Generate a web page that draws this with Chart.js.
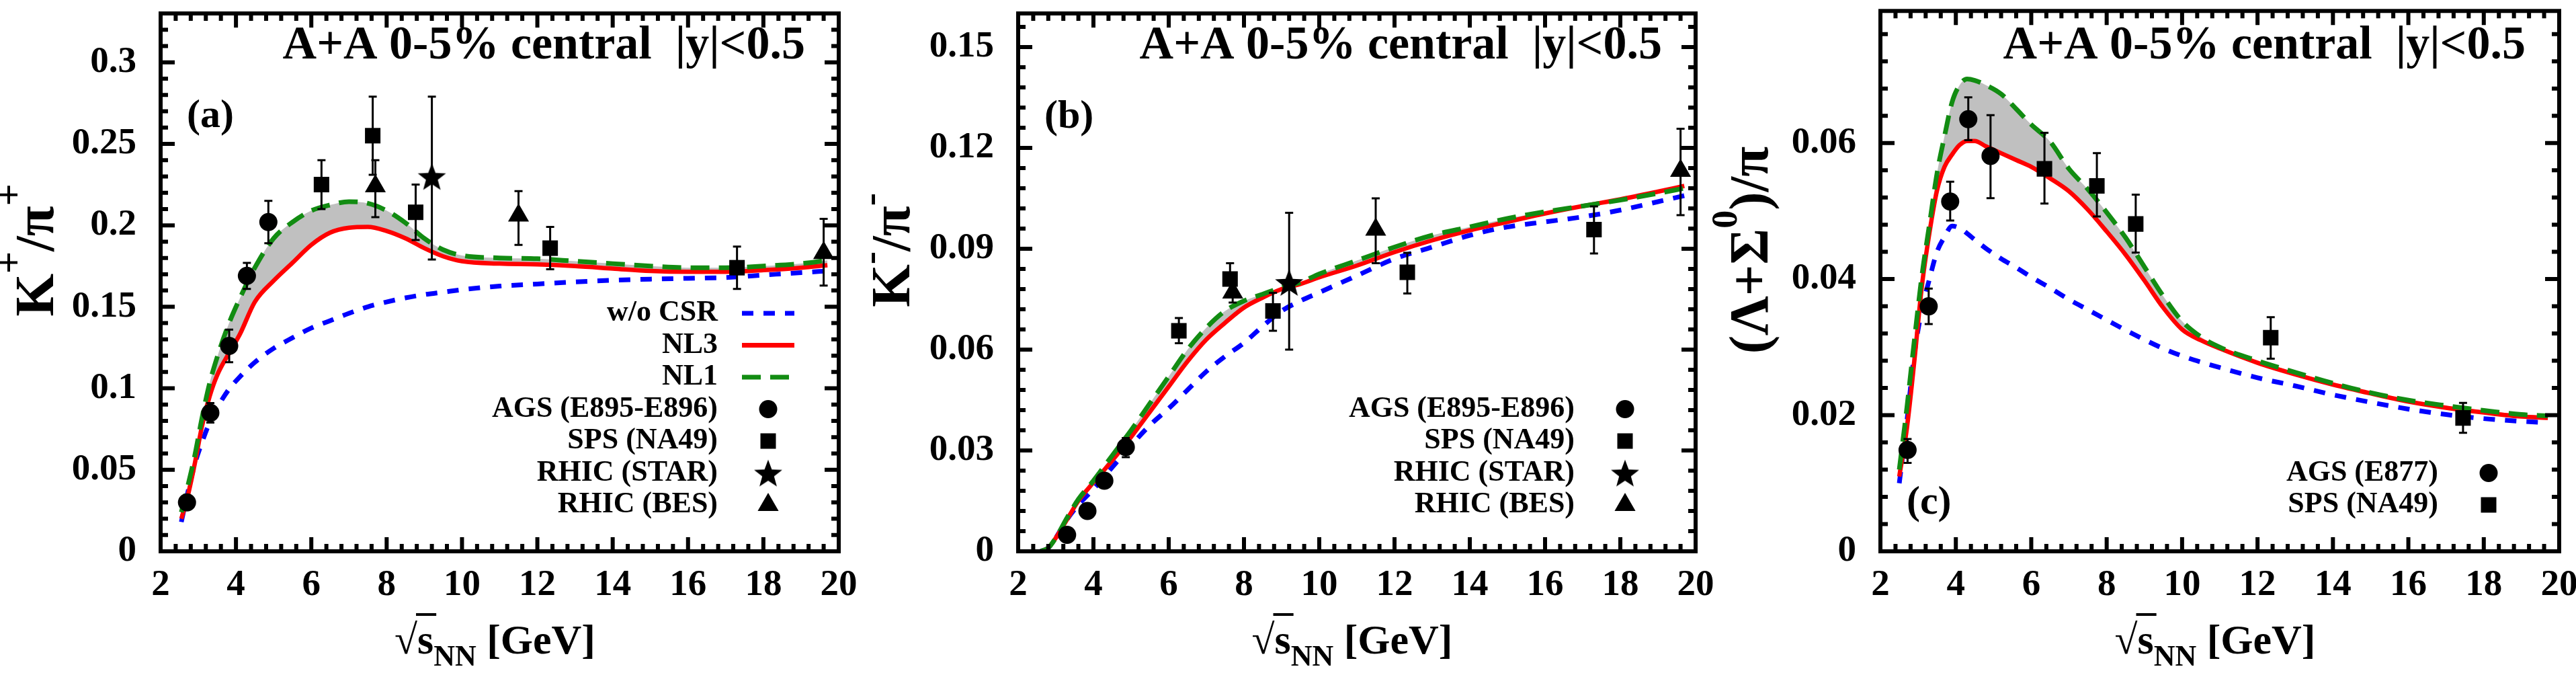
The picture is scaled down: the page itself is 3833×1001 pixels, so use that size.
<!DOCTYPE html>
<html>
<head>
<meta charset="utf-8">
<script src="https://cdn.jsdelivr.net/npm/chart.js@4/dist/chart.umd.min.js"></script>
<style>
  html,body{margin:0;padding:0;background:#fff;}
  #wrap{position:relative;width:3833px;height:1001px;overflow:hidden;background:#fff;}
  canvas{position:absolute;top:0;}
</style>
</head>
<body>
<div id="wrap">
  <canvas id="cA" width="1295" height="1001" style="left:0px"></canvas>
  <canvas id="cB" width="1275" height="1001" style="left:1285px"></canvas>
  <canvas id="cC" width="1288" height="1001" style="left:2545px"></canvas>
</div>
<script>
/* ====== DATA ====== */
const xTicks  = [2,4,6,8,10,12,14,16,18,20];
const xLabels = ['2','4','6','8','10','12','14','16','18','20'];

// (a) K+/pi+
const yTicksA  = [0,0.05,0.1,0.15,0.2,0.25,0.3];
const yLabelsA = ['0','0.05','0.1','0.15','0.2','0.25','0.3'];
const xA   = [2.55,2.7,2.9,3.1,3.3,3.5,3.8,4.1,4.5,5.0,5.5,6.0,6.5,7.0,7.5,8.0,8.5,9.0,9.5,10,11,12,13,14,15,16,17,18,19,19.7];
const nl1A = [0.024,0.038,0.058,0.082,0.103,0.119,0.139,0.155,0.174,0.192,0.202,0.209,0.2125,0.2145,0.2135,0.209,0.2015,0.192,0.185,0.1815,0.180,0.1795,0.178,0.1765,0.175,0.174,0.174,0.175,0.1765,0.1785];
const nl3A = [0.020,0.032,0.053,0.077,0.095,0.108,0.121,0.133,0.153,0.166,0.177,0.188,0.1955,0.1985,0.199,0.1965,0.192,0.186,0.181,0.178,0.1765,0.176,0.175,0.1735,0.172,0.1715,0.1715,0.1725,0.174,0.1755];
const woA  = [0.018,0.034,0.053,0.067,0.079,0.088,0.099,0.107,0.116,0.1245,0.131,0.137,0.1415,0.146,0.150,0.153,0.1555,0.1575,0.159,0.1605,0.1627,0.164,0.1653,0.1663,0.167,0.1675,0.168,0.1695,0.171,0.172];
const agsAx = [2.70,3.32,3.82,4.29,4.86], agsAy = [0.030,0.085,0.126,0.169,0.202];
const agsAlo = [0.027,0.079,0.116,0.161,0.189], agsAhi = [0.033,0.091,0.136,0.177,0.215];
const spsAx = [6.27,7.63,8.77,12.34,17.3], spsAy = [0.225,0.255,0.208,0.186,0.174];
const spsAlo = [0.210,0.231,0.191,0.173,0.161], spsAhi = [0.240,0.279,0.225,0.199,0.187];
const starAx = [9.2], starAy = [0.230], starAlo = [0.179], starAhi = [0.279];
const besAx = [7.7,11.5,19.6], besAy = [0.224,0.206,0.183];
const besAlo = [0.205,0.188,0.163], besAhi = [0.240,0.221,0.204];

// (b) K-/pi-
const yTicksB  = [0,0.03,0.06,0.09,0.12,0.15];
const yLabelsB = ['0','0.03','0.06','0.09','0.12','0.15'];
const xB   = [2.6,2.8,3.0,3.3,3.6,4.0,4.5,5.0,5.5,6.0,6.5,7.0,7.5,8.0,8.5,9.0,9.5,10,11,12,13,14,15,16,17,18,19,19.7];
const nl1B = [0.0,0.001,0.004,0.010,0.0155,0.021,0.0285,0.036,0.044,0.052,0.060,0.0665,0.0715,0.0745,0.0765,0.0785,0.080,0.0825,0.0865,0.0905,0.094,0.0965,0.099,0.101,0.1027,0.1045,0.1065,0.108];
const nl3B = [0.0,0.001,0.004,0.0095,0.015,0.0205,0.027,0.034,0.0415,0.049,0.0565,0.063,0.068,0.0725,0.0755,0.078,0.0795,0.0815,0.085,0.089,0.0925,0.0955,0.098,0.1005,0.1027,0.1047,0.107,0.1087];
const woB  = [0.0,0.001,0.004,0.0095,0.0138,0.0185,0.025,0.0315,0.0375,0.0425,0.048,0.0535,0.058,0.062,0.067,0.0715,0.0745,0.077,0.082,0.087,0.0905,0.094,0.0965,0.098,0.0995,0.1015,0.104,0.1058];
const agsBx = [3.30,3.84,4.29,4.86], agsBy = [0.0049,0.012,0.021,0.031];
const agsBlo = [0.0045,0.011,0.0195,0.028], agsBhi = [0.0053,0.013,0.0225,0.0337];
const spsBx = [6.27,7.63,8.77,12.34,17.3], spsBy = [0.0656,0.081,0.0715,0.083,0.0957];
const spsBlo = [0.0619,0.0769,0.0656,0.0767,0.0886], spsBhi = [0.0694,0.0857,0.0769,0.0888,0.1026];
const starBx = [9.2], starBy = [0.080], starBlo = [0.060], starBhi = [0.1007];
const besBx = [7.7,11.5,19.6], besBy = [0.077,0.0957,0.1132];
const besBlo = [0.074,0.0857,0.100], besBhi = [0.080,0.105,0.1257];

// (c) (Lambda+Sigma0)/pi
const yTicksC  = [0,0.02,0.04,0.06];
const yLabelsC = ['0','0.02','0.04','0.06'];
const xC   = [2.5,2.7,2.9,3.1,3.3,3.5,3.7,3.9,4.1,4.3,4.5,4.8,5.2,5.6,6.0,6.5,7.0,7.5,8.0,8.5,9.0,9.5,10,10.5,11,12,13,14,15,16,17,18,19,19.7];
const nl1C = [0.012,0.021,0.031,0.0405,0.048,0.0555,0.061,0.066,0.0685,0.0694,0.0692,0.0685,0.0672,0.065,0.0627,0.0602,0.0562,0.0532,0.0498,0.0461,0.0418,0.0375,0.0338,0.0315,0.0300,0.0280,0.0263,0.0247,0.0233,0.0222,0.0214,0.0207,0.0201,0.0199];
const nl3C = [0.011,0.018,0.028,0.039,0.0468,0.053,0.0565,0.0583,0.0597,0.0603,0.0603,0.0595,0.0585,0.0575,0.0565,0.0548,0.0529,0.0502,0.0470,0.0436,0.0398,0.0358,0.0326,0.0310,0.0298,0.0277,0.0260,0.0245,0.0232,0.0220,0.0211,0.0204,0.0198,0.0196];
const woC  = [0.010,0.019,0.029,0.0355,0.040,0.044,0.0462,0.0478,0.0475,0.0467,0.0458,0.0445,0.0430,0.0417,0.0403,0.0387,0.0370,0.0355,0.0340,0.0325,0.0311,0.0298,0.0287,0.0278,0.0270,0.0255,0.0243,0.0230,0.0219,0.0209,0.0201,0.0195,0.0191,0.0189];
const agsCx = [2.72,3.28,3.85,4.33,4.92], agsCy = [0.0149,0.0360,0.0514,0.0635,0.0581];
const agsClo = [0.0130,0.0334,0.0486,0.0604,0.0519], agsChi = [0.0165,0.0386,0.0543,0.0667,0.0641];
const spsCx = [6.35,7.74,8.77,12.35,17.45], spsCy = [0.0562,0.0537,0.0481,0.0314,0.0196];
const spsClo = [0.0511,0.0492,0.0439,0.0283,0.0174], spsChi = [0.0615,0.0585,0.0524,0.0344,0.0218];

/* ====== STYLE ====== */
const SERIF = '"Liberation Serif","Times New Roman",serif';
const RED = '#ff0000', GREEN = '#128c12', BLUE = '#0000ff', GREY = '#c0c0c0';
const DASH_G = [28,14], DASH_B = [17,15];
const TITLE = 'A+A 0-5% central  |y|<0.5';
const f = (px, it) => `${it?'italic ':''}bold ${px}px ${SERIF}`;

function makeStar(R){
  const c=document.createElement('canvas'), s=Math.ceil(R*2+4);
  c.width=c.height=s;
  const g=c.getContext('2d');
  g.translate(s/2, s/2+R*0.1);
  g.beginPath();
  for(let i=0;i<10;i++){ const r=i%2?R*0.42:R, a=-Math.PI/2+i*Math.PI/5; g.lineTo(r*Math.cos(a), r*Math.sin(a)); }
  g.closePath(); g.fillStyle='#000'; g.fill();
  return c;
}
const STAR = makeStar(22);

/* ====== helpers ====== */
const xy = (xs, ys) => xs.map((x,i)=>({x, y:ys[i]}));
const pts = (label, xs, ys, lo, hi, style, r) => ({
  label, data:xy(xs,ys), errLo:lo, errHi:hi, showLine:false,
  pointStyle:style, pointRadius:r, pointHoverRadius:r,
  pointBackgroundColor:'#000', pointBorderColor:'#000', pointBorderWidth:0
});
const curve = (label, xs, ys, color, dash, w) => ({
  label, data:xy(xs,ys), showLine:true, borderColor:color, borderWidth:w, borderDash:dash,
  pointRadius:0, cubicInterpolationMode:'monotone', fill:false
});
function richWidth(ctx, parts){ let w=0; parts.forEach(p=>{ ctx.font=p.font; w+=ctx.measureText(p.t).width; }); return w; }
function drawRich(ctx, parts, x, y){
  let cx=x;
  parts.forEach(p=>{ ctx.font=p.font; ctx.fillText(p.t, cx, y+(p.dy||0)); cx+=ctx.measureText(p.t).width; });
}
function legendMark(ctx, kind, x, y){
  ctx.fillStyle='#000';
  ctx.beginPath();
  if(kind==='circle'){ ctx.arc(x,y,13.5,0,Math.PI*2); ctx.fill(); }
  else if(kind==='rect'){ ctx.fillRect(x-11.5,y-11.5,23,23); }
  else if(kind==='triangle'){ const r=18; ctx.moveTo(x,y-r); ctx.lineTo(x+r*0.866,y+r*0.5); ctx.lineTo(x-r*0.866,y+r*0.5); ctx.closePath(); ctx.fill(); }
  else if(kind==='star'){ ctx.drawImage(STAR, x-STAR.width/2, y-STAR.height/2); }
}

/* ====== PLUGINS ====== */
const errBars = {
  id:'errBars',
  afterDatasetDraw(chart, args){
    const ds=chart.data.datasets[args.index]; if(!ds.errLo) return;
    const {ctx, scales:{y}}=chart;
    ctx.save(); ctx.strokeStyle='#000'; ctx.lineWidth=3;
    args.meta.data.forEach((pt,i)=>{
      const x=pt.x, y1=y.getPixelForValue(ds.errLo[i]), y2=y.getPixelForValue(ds.errHi[i]);
      ctx.beginPath();
      ctx.moveTo(x,y1); ctx.lineTo(x,y2);
      ctx.moveTo(x-6,y1); ctx.lineTo(x+6,y1);
      ctx.moveTo(x-6,y2); ctx.lineTo(x+6,y2);
      ctx.stroke();
    });
    ctx.restore();
  }
};

const frame = {
  id:'frame',
  afterDatasetsDraw(chart, args, o){
    const {ctx, chartArea:a, scales:{x,y}}=chart;
    const seg=(x1,y1,x2,y2)=>{ ctx.moveTo(x1,y1); ctx.lineTo(x2,y2); };
    ctx.save(); ctx.strokeStyle='#000'; ctx.lineWidth=6; ctx.lineCap='butt';
    ctx.beginPath();
    for(let v=2; v<=20.001; v+=0.4){
      const p=x.getPixelForValue(v), maj=Math.abs(v-Math.round(v))<1e-6 && Math.round(v)%2===0, L=maj?21:11;
      seg(p,a.bottom,p,a.bottom-L); seg(p,a.top,p,a.top+L);
    }
    const n=Math.floor(o.yMax/o.yMinor+1e-6);
    for(let i=0;i<=n;i++){
      const v=i*o.yMinor, p=y.getPixelForValue(v), maj=i%5===0, L=maj?21:11;
      seg(a.left,p,a.left+L,p); seg(a.right,p,a.right-L,p);
    }
    ctx.stroke();
    ctx.strokeRect(a.left,a.top,a.right-a.left,a.bottom-a.top);
    ctx.restore();
  }
};

const decor = {
  id:'decor',
  afterDraw(chart, args, o){
    const {ctx, chartArea:a}=chart;
    ctx.save(); ctx.fillStyle='#000';
    // title
    ctx.font=f(70); ctx.textAlign='right'; ctx.textBaseline='alphabetic';
    ctx.fillText(TITLE, a.right-50, 87);
    // panel letter
    ctx.font=f(60); ctx.textAlign='left'; ctx.textBaseline='middle';
    ctx.fillText(o.letter, a.left+39, o.letterY);
    // legend
    o.legend.forEach((it,i)=>{
      const yy=o.legY+i*47.5;
      ctx.font=f(44); ctx.textAlign='right'; ctx.textBaseline='middle'; ctx.fillStyle='#000';
      ctx.fillText(it.label, a.right-180, yy);
      if(it.kind==='line'){
        ctx.save(); ctx.strokeStyle=it.color; ctx.lineWidth=7; ctx.setLineDash(it.dash);
        ctx.beginPath(); ctx.moveTo(a.right-144,yy); ctx.lineTo(a.right-66,yy); ctx.stroke(); ctx.restore();
      } else legendMark(ctx, it.kind, a.right-105, yy);
    });
    // y title (rotated)
    ctx.textAlign='left'; ctx.textBaseline='alphabetic';
    const w=richWidth(ctx, o.yTitle);
    ctx.save();
    ctx.translate(a.left-o.yTitleOff, 372+w/2); ctx.rotate(-Math.PI/2);
    drawRich(ctx, o.yTitle, 0, 0);
    ctx.restore();
    // x title: sqrt(s_NN) [GeV]
    const xt=[{t:'\u221A',font:f(62)},{t:'s',font:f(62)},{t:'NN',font:f(44),dy:18},{t:' [GeV]',font:f(62)}];
    const xw=richWidth(ctx, xt), x0=(a.left+a.right)/2-7-xw/2, base=972;
    drawRich(ctx, xt, x0, base);
    ctx.font=f(62); const sq=ctx.measureText('\u221A').width, sw=ctx.measureText('s').width;
    ctx.fillRect(x0+sq-2, base-60, sw+6, 4);
    ctx.restore();
  }
};

/* ====== CHARTS ====== */
function makeChart(id, c){
  const tickFont={family:SERIF, size:55, weight:'bold'};
  return new Chart(document.getElementById(id), {
    type:'scatter',
    data:{datasets:c.datasets},
    options:{
      responsive:false, animation:false, devicePixelRatio:1,
      layout:{padding:{top:5, right:c.padRight, left:0, bottom:0}},
      plugins:{
        legend:{display:false}, tooltip:{enabled:false},
        filler:{drawTime:'beforeDatasetsDraw'},
        frame:{yMax:c.yMax, yMinor:c.yMinor},
        decor:c.decor
      },
      scales:{
        x:{
          type:'linear', min:2, max:20,
          afterBuildTicks:s=>{ s.ticks=xTicks.map(v=>({value:v})); },
          afterFit:s=>{ s.height=181; s.paddingLeft=0; s.paddingRight=0; },
          grid:{display:false, drawTicks:false, tickLength:0}, border:{display:false},
          ticks:{font:tickFont, color:'#000', padding:18, maxRotation:0, autoSkip:false, callback:(v,i)=>xLabels[i]}
        },
        y:{
          type:'linear', min:0, max:c.yMax,
          afterBuildTicks:s=>{ s.ticks=c.yTicks.map(v=>({value:v})); },
          afterFit:s=>{ s.width=c.axisW; s.paddingTop=0; s.paddingBottom=0; },
          grid:{display:false, drawTicks:false, tickLength:0}, border:{display:false},
          ticks:{font:tickFont, color:'#000', padding:36, autoSkip:false, callback:(v,i)=>c.yLabels[i]}
        }
      }
    },
    plugins:[errBars, frame, decor]
  });
}

const LEG_LINES = [
  {label:'w/o CSR', kind:'line', color:BLUE, dash:DASH_B},
  {label:'NL3', kind:'line', color:RED, dash:[]},
  {label:'NL1', kind:'line', color:GREEN, dash:DASH_G}
];
const LEG_PTS = [
  {label:'AGS (E895-E896)', kind:'circle'},
  {label:'SPS (NA49)', kind:'rect'},
  {label:'RHIC (STAR)', kind:'star'},
  {label:'RHIC (BES)', kind:'triangle'}
];
const band = (ds, target) => Object.assign(ds, {fill:{target}, backgroundColor:GREY});

// panel (a)
makeChart('cA', {
  axisW:239, padRight:47, yMax:0.33, yMinor:0.01, yTicks:yTicksA, yLabels:yLabelsA,
  datasets:[
    pts('AGS', agsAx, agsAy, agsAlo, agsAhi, 'circle', 13.5),
    pts('SPS', spsAx, spsAy, spsAlo, spsAhi, 'rect', 16.3),
    pts('STAR', starAx, starAy, starAlo, starAhi, STAR, 20),
    pts('BES', besAx, besAy, besAlo, besAhi, 'triangle', 18),
    band(curve('NL1', xA, nl1A, GREEN, DASH_G, 7), 5),
    curve('NL3', xA, nl3A, RED, [], 6.5),
    curve('w/o CSR', xA, woA, BLUE, DASH_B, 7)
  ],
  decor:{
    letter:'(a)', letterY:173, legY:466, legend:[...LEG_LINES, ...LEG_PTS], yTitleOff:160,
    yTitle:[{t:'K',font:f(82)},{t:'+',font:f(58),dy:-47},{t:'/',font:f(82)},{t:'\u03C0',font:f(82)},{t:'+',font:f(58),dy:-47}]
  }
});

// panel (b)
makeChart('cB', {
  axisW:230, padRight:37, yMax:0.16, yMinor:0.006, yTicks:yTicksB, yLabels:yLabelsB,
  datasets:[
    pts('AGS', agsBx, agsBy, agsBlo, agsBhi, 'circle', 13.5),
    pts('SPS', spsBx, spsBy, spsBlo, spsBhi, 'rect', 16.3),
    pts('STAR', starBx, starBy, starBlo, starBhi, STAR, 20),
    pts('BES', besBx, besBy, besBlo, besBhi, 'triangle', 18),
    band(curve('NL1', xB, nl1B, GREEN, DASH_G, 7), 5),
    curve('NL3', xB, nl3B, RED, [], 6.5),
    curve('w/o CSR', xB, woB, BLUE, DASH_B, 7)
  ],
  decor:{
    letter:'(b)', letterY:174, legY:608.5, legend:LEG_PTS, yTitleOff:162,
    yTitle:[{t:'K',font:f(82)},{t:'-',font:f(58),dy:-40},{t:'/',font:f(82)},{t:'\u03C0',font:f(82)},{t:'-',font:f(58),dy:-40}]
  }
});

// panel (c)
makeChart('cC', {
  axisW:253, padRight:25, yMax:0.0794, yMinor:0.004, yTicks:yTicksC, yLabels:yLabelsC,
  datasets:[
    pts('AGS', agsCx, agsCy, agsClo, agsChi, 'circle', 13.5),
    pts('SPS', spsCx, spsCy, spsClo, spsChi, 'rect', 16.3),
    band(curve('NL1', xC, nl1C, GREEN, DASH_G, 7), 3),
    curve('NL3', xC, nl3C, RED, [], 6.5),
    curve('w/o CSR', xC, woC, BLUE, DASH_B, 7)
  ],
  decor:{
    letter:'(c)', letterY:748, legY:703.5,
    legend:[{label:'AGS (E877)', kind:'circle'},{label:'SPS (NA49)', kind:'rect'}], yTitleOff:168,
    yTitle:[{t:'(',font:f(82)},{t:'\u039B',font:f(82)},{t:'+',font:f(82)},{t:'\u03A3',font:f(82)},{t:'0',font:f(54),dy:-46},{t:')',font:f(82)},{t:'/',font:f(82)},{t:'\u03C0',font:f(82)}]
  }
});
</script>
</body>
</html>
